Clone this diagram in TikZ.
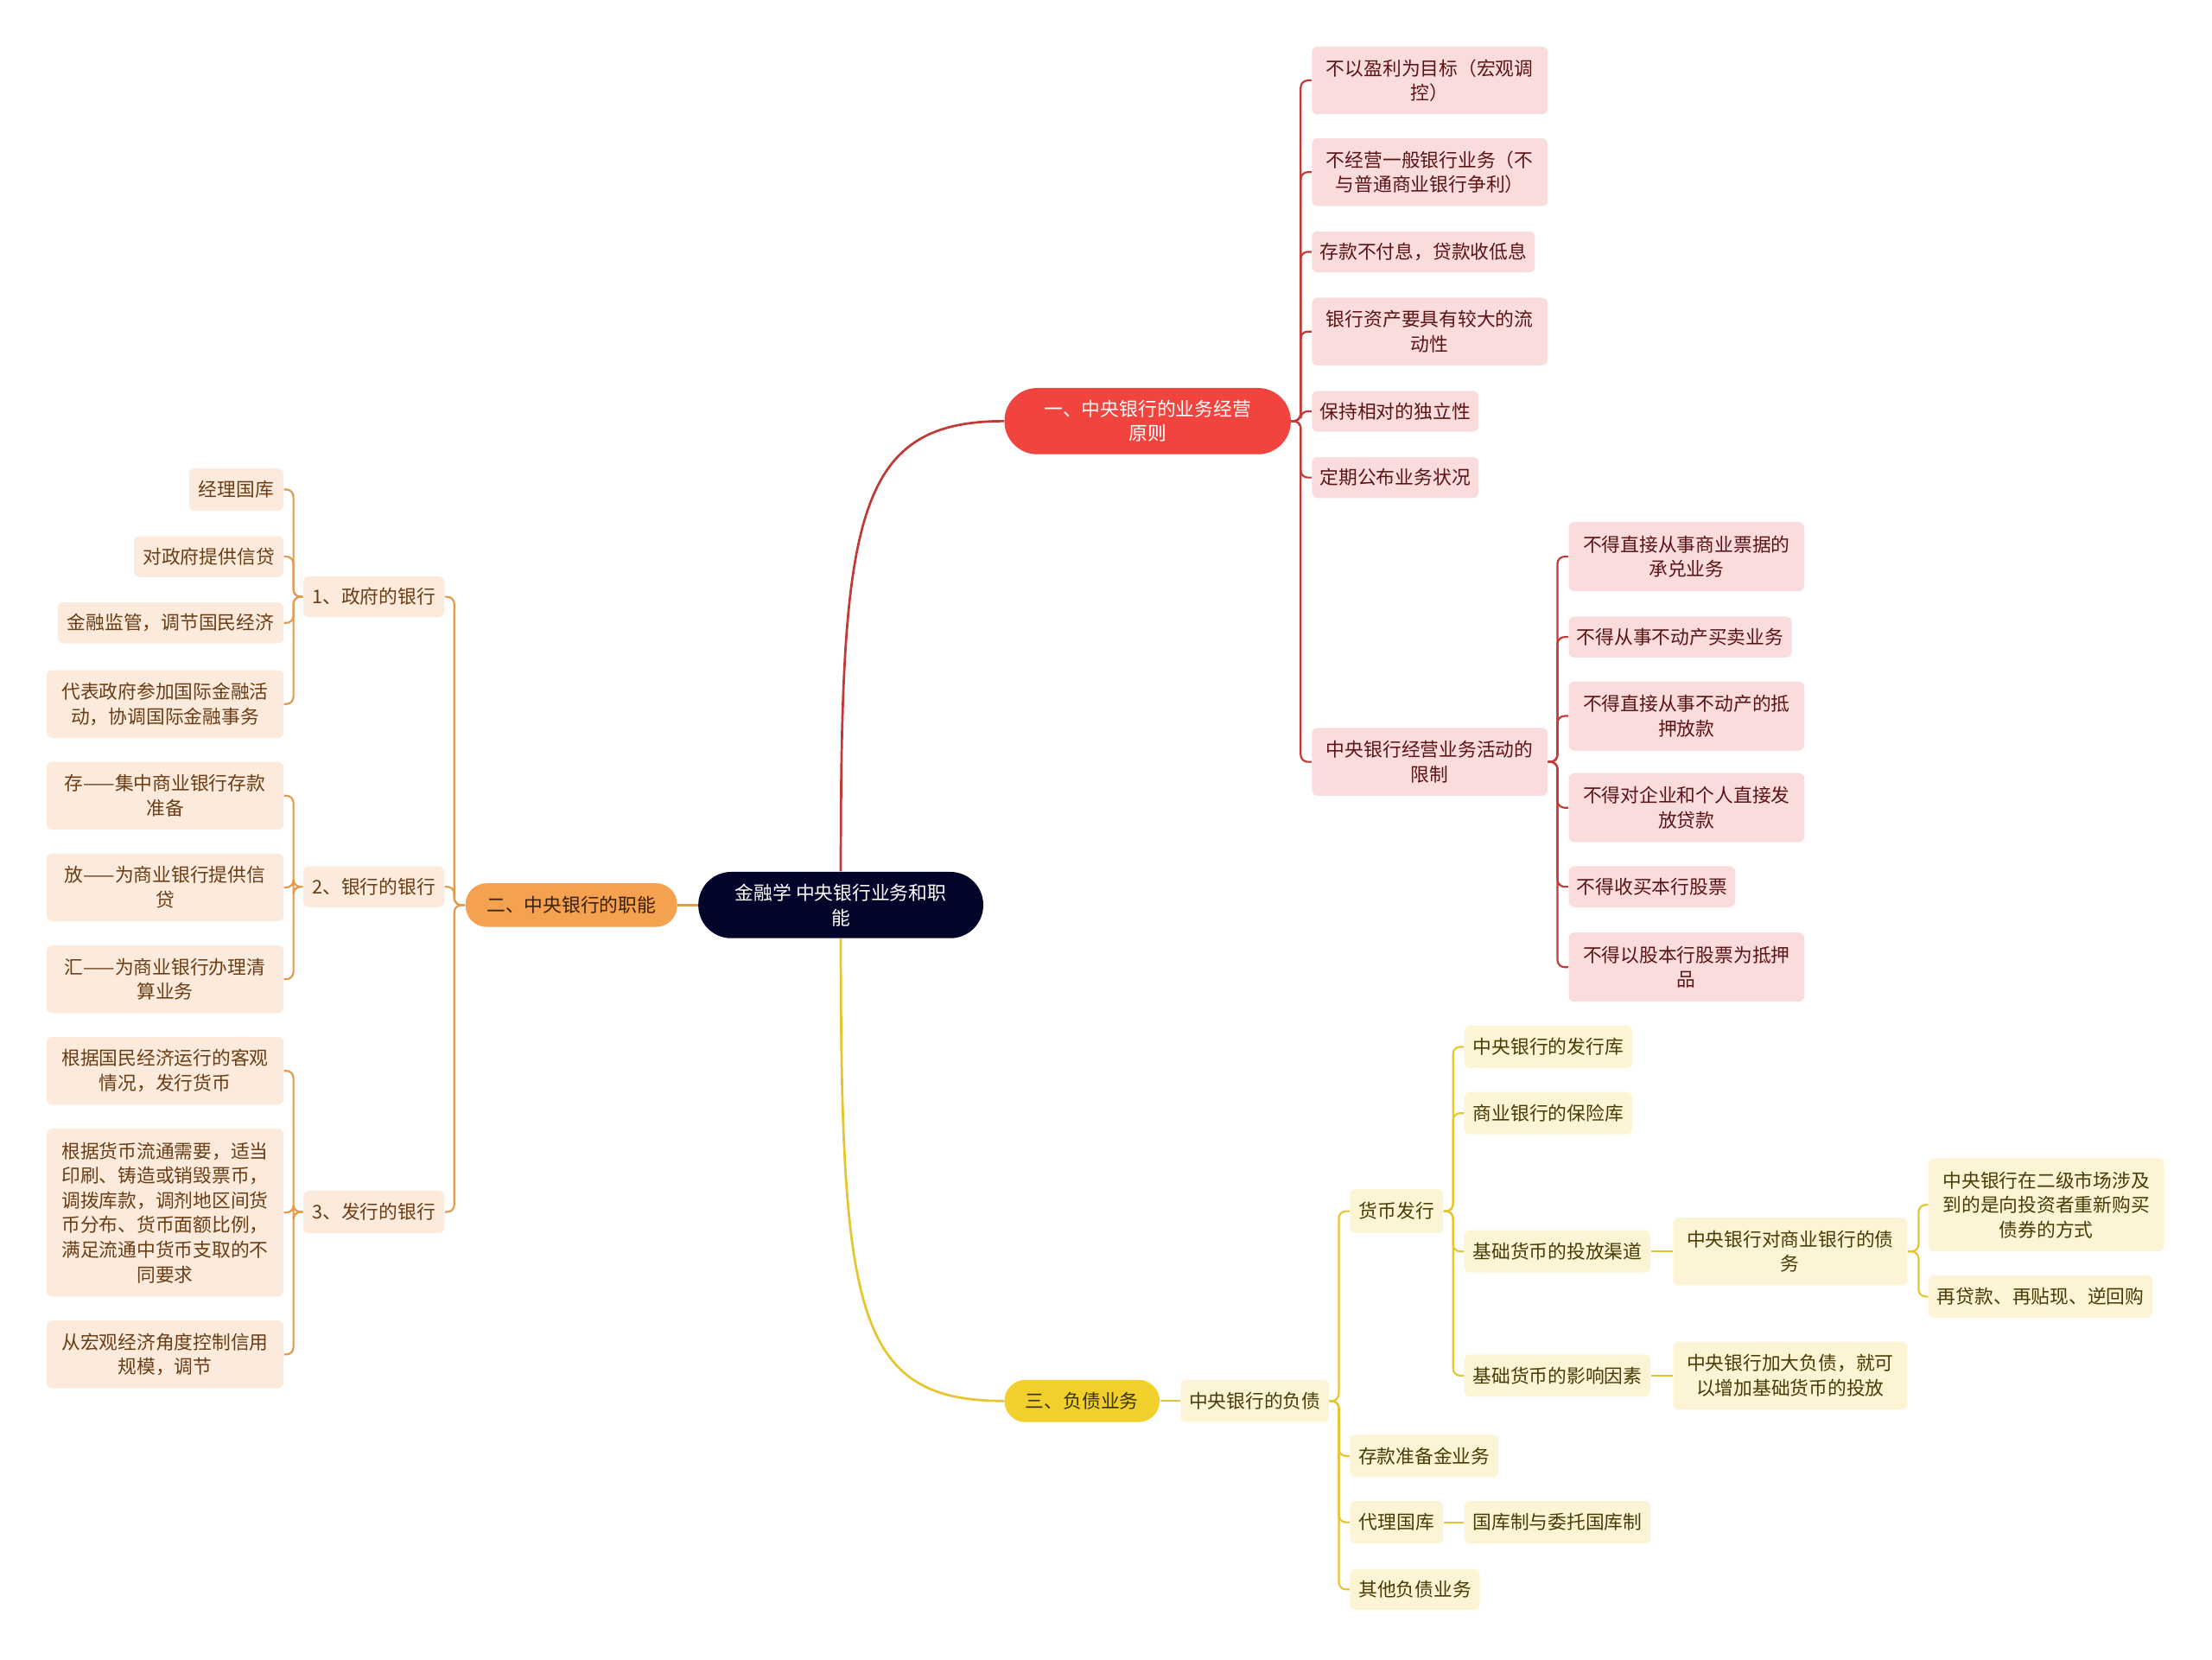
\documentclass[tikz,border=0pt]{standalone}
\usepackage{fontspec}
\newfontfamily\cjk{Noto Sans CJK SC}
\definecolor{rootc}{HTML}{03042A}
\definecolor{redf}{HTML}{F2443E}
\definecolor{redl}{HTML}{BE3B36}
\definecolor{pinkf}{HTML}{FBDCDC}
\definecolor{pinkt}{HTML}{5B1414}
\definecolor{orf}{HTML}{F4A24F}
\definecolor{orl}{HTML}{E29A4C}
\definecolor{ort}{HTML}{3B1F08}
\definecolor{peachf}{HTML}{FCEBDD}
\definecolor{peacht}{HTML}{6B3D14}
\definecolor{yef}{HTML}{F2D02C}
\definecolor{yel}{HTML}{E6C62E}
\definecolor{yet}{HTML}{3A3300}
\definecolor{creamf}{HTML}{FCF4D4}
\definecolor{creamt}{HTML}{463D05}
\tikzset{
  base/.style={font=\cjk\fontsize{8}{10.5}\selectfont, align=center, inner sep=0pt, rounded corners=2.4pt},
  sz/.style 2 args={minimum width=#1*0.6pt, minimum height=#2*0.6pt},
  rootbox/.style={base, fill=rootc, text=white, rounded corners=14pt},
  redbox/.style={base, fill=redf, text=white, rounded corners=14pt},
  orbox/.style={base, fill=orf, text=ort, rounded corners=9pt},
  yebox/.style={base, fill=yef, text=yet, rounded corners=9pt},
  pinkbox/.style={base, fill=pinkf, text=pinkt},
  peachbox/.style={base, fill=peachf, text=peacht},
  creambox/.style={base, fill=creamf, text=creamt},
  rl/.style={draw=redl, line width=0.8pt, rounded corners=3pt},
  ol/.style={draw=orl, line width=0.8pt, rounded corners=3pt},
  yl/.style={draw=yel, line width=0.8pt, rounded corners=3pt},
}
\begin{document}
\begin{tikzpicture}[x=0.6pt,y=-0.6pt]
\useasboundingbox (0,0) rectangle (1568,1176);
\fill[white] (0,0) rectangle (1568,1176);

% main nodes
\node[rootbox, sz={202}{47}] (root) at (596,641.5) {金融学 中央银行业务和职\\能};
\node[redbox, sz={203}{47}] (b1) at (813.5,298.5) {一、中央银行的业务经营\\原则};
\node[orbox, sz={150}{31}] (b2) at (405,641.5) {二、中央银行的职能};
\node[yebox, sz={110}{30}] (b3) at (767,993) {三、负债业务};

% branch 1 children
\node[pinkbox, sz={167}{48}] (c1) at (1013.5,57) {不以盈利为目标（宏观调\\控）};
\node[pinkbox, sz={167}{48}] (c2) at (1013.5,122) {不经营一般银行业务（不\\与普通商业银行争利）};
\node[pinkbox, sz={158}{29}] (c3) at (1009,178.5) {存款不付息，贷款收低息};
\node[pinkbox, sz={167}{48}] (c4) at (1013.5,235) {银行资产要具有较大的流\\动性};
\node[pinkbox, sz={118}{29}] (c5) at (989,291.5) {保持相对的独立性};
\node[pinkbox, sz={118}{29}] (c6) at (989,338.5) {定期公布业务状况};
\node[pinkbox, sz={167}{48}] (c7) at (1013.5,540) {中央银行经营业务活动的\\限制};

\node[pinkbox, sz={167}{49}] (d1) at (1195.5,394.5) {不得直接从事商业票据的\\承兑业务};
\node[pinkbox, sz={158}{29}] (d2) at (1191,451.5) {不得从事不动产买卖业务};
\node[pinkbox, sz={167}{49}] (d3) at (1195.5,507.5) {不得直接从事不动产的抵\\押放款};
\node[pinkbox, sz={167}{49}] (d4) at (1195.5,572.5) {不得对企业和个人直接发\\放贷款};
\node[pinkbox, sz={118}{29}] (d5) at (1171,628.5) {不得收买本行股票};
\node[pinkbox, sz={167}{49}] (d6) at (1195.5,685.5) {不得以股本行股票为抵押\\品};

% branch 2 children
\node[peachbox, sz={100}{29}] (g1) at (265,423) {1、政府的银行};
\node[peachbox, sz={100}{29}] (g2) at (265,628.5) {2、银行的银行};
\node[peachbox, sz={100}{30}] (g3) at (265,859) {3、发行的银行};

\node[peachbox, sz={67}{30}] (g1a) at (167.5,347) {经理国库};
\node[peachbox, sz={106}{29}] (g1b) at (148,394.5) {对政府提供信贷};
\node[peachbox, sz={160}{29}] (g1c) at (121,441.5) {金融监管，调节国民经济};
\node[peachbox, sz={168}{48}] (g1d) at (117,499) {代表政府参加国际金融活\\动，协调国际金融事务};

\node[peachbox, sz={168}{48}] (g2a) at (117,564) {存——集中商业银行存款\\准备};
\node[peachbox, sz={168}{48}] (g2b) at (117,629) {放——为商业银行提供信\\贷};
\node[peachbox, sz={168}{48}] (g2c) at (117,694) {汇——为商业银行办理清\\算业务};

\node[peachbox, sz={168}{48}] (g3a) at (117,759) {根据国民经济运行的客观\\情况，发行货币};
\node[peachbox, sz={168}{119}] (g3b) at (117,859.5) {根据货币流通需要，适当\\印刷、铸造或销毁票币，\\调拨库款，调剂地区间货\\币分布、货币面额比例，\\满足流通中货币支取的不\\同要求};
\node[peachbox, sz={168}{48}] (g3c) at (117,960) {从宏观经济角度控制信用\\规模，调节};

% branch 3 children
\node[creambox, sz={105}{30}] (fz) at (889.5,993) {中央银行的负债};
\node[creambox, sz={66}{31}] (h1) at (990,858.5) {货币发行};
\node[creambox, sz={105}{30}] (h2) at (1009.5,1032) {存款准备金业务};
\node[creambox, sz={66}{30}] (h3) at (990,1079) {代理国库};
\node[creambox, sz={92}{29}] (h4) at (1003,1126.5) {其他负债业务};
\node[creambox, sz={132}{30}] (h3a) at (1104,1079) {国库制与委托国库制};

\node[creambox, sz={119}{30}] (i1) at (1097.5,742) {中央银行的发行库};
\node[creambox, sz={119}{30}] (i2) at (1097.5,789) {商业银行的保险库};
\node[creambox, sz={132}{30}] (i3) at (1104,887) {基础货币的投放渠道};
\node[creambox, sz={132}{30}] (i4) at (1104,975) {基础货币的影响因素};
\node[creambox, sz={166}{48}] (j1) at (1269,887) {中央银行对商业银行的债\\务};
\node[creambox, sz={166}{48}] (j2) at (1269,975) {中央银行加大负债，就可\\以增加基础货币的投放};
\node[creambox, sz={167}{66}] (k1) at (1450.5,854) {中央银行在二级市场涉及\\到的是向投资者重新购买\\债券的方式};
\node[creambox, sz={159}{30}] (k2) at (1446.5,919) {再贷款、再贴现、逆回购};

% spine coordinates
\coordinate (s1) at (922,0);
\coordinate (s7) at (1104,0);
\coordinate (s2) at (322,0);
\coordinate (sl) at (208,0);
\coordinate (s3) at (949,0);
\coordinate (sh) at (1030,0);
\coordinate (sz) at (1360,0);

% main connectors
\draw[draw=redl, line width=1pt] (root.north) .. controls (596,367) and (606,298.5) .. (b1.west);
\draw[draw=yel, line width=1pt] (root.south) .. controls (596,930) and (606,993) .. (b3.west);
\draw[draw=orl, line width=1pt] (root.west) -- (b2.east);

% branch 1
\foreach \c in {c1,c2,c3,c4,c5,c6,c7}
  \draw[rl] (b1.east) -- (b1.east -| s1) |- (\c.west);
\foreach \c in {d1,d2,d3,d4,d5,d6}
  \draw[rl] (c7.east) -- (c7.east -| s7) |- (\c.west);

% branch 2
\foreach \c in {g1,g2,g3}
  \draw[ol] (b2.west) -- (b2.west -| s2) |- (\c.east);
\foreach \c in {g1a,g1b,g1c,g1d}
  \draw[ol] (g1.west) -- (g1.west -| sl) |- (\c.east);
\foreach \c in {g2a,g2b,g2c}
  \draw[ol] (g2.west) -- (g2.west -| sl) |- (\c.east);
\foreach \c in {g3a,g3b,g3c}
  \draw[ol] (g3.west) -- (g3.west -| sl) |- (\c.east);

% branch 3
\draw[yl] (b3.east) -- (fz.west);
\foreach \c in {h1,h2,h3,h4}
  \draw[yl] (fz.east) -- (fz.east -| s3) |- (\c.west);
\draw[yl] (h3.east) -- (h3a.west);
\foreach \c in {i1,i2,i3,i4}
  \draw[yl] (h1.east) -- (h1.east -| sh) |- (\c.west);
\draw[yl] (i3.east) -- (j1.west);
\draw[yl] (i4.east) -- (j2.west);
\foreach \c in {k1,k2}
  \draw[yl] (j1.east) -- (j1.east -| sz) |- (\c.west);
\end{tikzpicture}
\end{document}
